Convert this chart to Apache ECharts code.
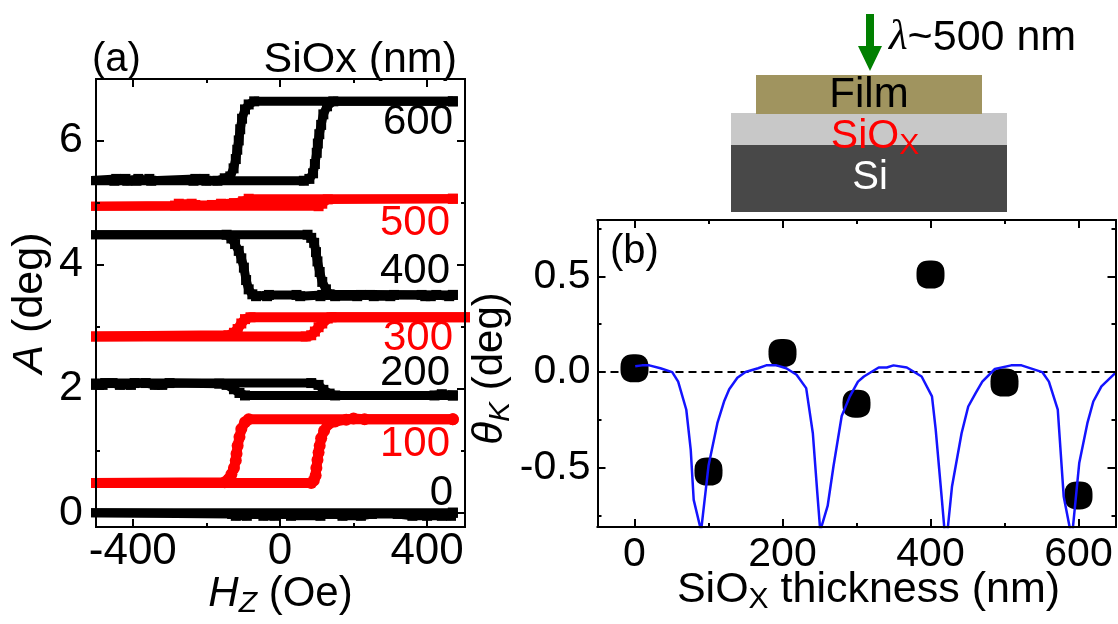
<!DOCTYPE html>
<html><head><meta charset="utf-8">
<style>html,body{margin:0;padding:0;background:#fff}#c{width:1118px;height:624px}</style>
<script src="https://cdn.jsdelivr.net/npm/echarts@6/dist/echarts.min.js"></script>
</head><body><div id="c"></div>
<script>
// Panel (a): hysteresis loops, [field Oe, A deg]
const s0Up = [[-520,0],[470,0]];
const s0Down = [[470,0],[465,-0.05],[440,-0.05],[400,-0.05],[360,-0.05],[320,-0.02],[250,-0.02],[220,-0.05],[170,-0.05],[150,-0.02],[125,-0.02],[110,-0.05],[30,-0.05],[20,-0.02],[-5,-0.02],[-15,-0.05],[-45,-0.05],[-55,-0.02],[-80,-0.02],[-90,-0.05],[-120,-0.05],[-130,-0.02],[-520,0]];
const s100Up = [[-520,0.48],[85,0.48],[92,0.52],[97,0.6],[99,0.72],[102,0.85],[105,0.97],[108,1.08],[112,1.2],[120,1.32],[130,1.42],[150,1.47],[180,1.5],[200,1.52],[230,1.505],[470,1.505]];
const s100Down = [[470,1.505],[-85,1.505],[-95,1.46],[-105,1.35],[-110,1.22],[-115,1.08],[-118,0.95],[-120,0.84],[-125,0.72],[-132,0.62],[-140,0.54],[-150,0.49],[-520,0.48]];
const s200Up = [[-520,2.09],[85,2.09],[105,2.06],[118,1.98],[135,1.92],[150,1.89],[420,1.89],[440,1.91],[470,1.89]];
const s200Down = [[470,1.89],[-95,1.89],[-110,1.93],[-125,1.99],[-145,2.06],[-165,2.08],[-300,2.09],[-320,2.06],[-340,2.06],[-365,2.09],[-395,2.09],[-405,2.06],[-435,2.06],[-455,2.09],[-475,2.09],[-482,2.06],[-500,2.06],[-520,2.09]];
const s300Up = [[-520,2.84],[70,2.84],[85,2.86],[95,2.92],[105,2.99],[115,3.05],[130,3.13],[140,3.15],[520,3.15]];
const s300Down = [[520,3.15],[-80,3.15],[-95,3.12],[-105,3.05],[-115,2.96],[-125,2.9],[-140,2.86],[-520,2.84]];
const s400Up = [[-520,4.48],[75,4.48],[85,4.43],[93,4.35],[98,4.2],[102,4.05],[108,3.88],[115,3.72],[125,3.6],[135,3.52],[470,3.51]];
const s400Down = [[470,3.51],[460,3.49],[425,3.51],[410,3.49],[395,3.49],[385,3.51],[310,3.51],[300,3.49],[255,3.49],[245,3.51],[220,3.51],[210,3.49],[150,3.49],[140,3.51],[115,3.51],[110,3.49],[55,3.49],[45,3.51],[-30,3.51],[-35,3.49],[-65,3.49],[-75,3.52],[-85,3.6],[-92,3.75],[-98,3.95],[-105,4.1],[-112,4.22],[-122,4.33],[-132,4.42],[-145,4.48],[-520,4.48]];
const s500Up = [[-520,4.94],[105,4.94],[115,4.98],[130,5.05],[470,5.06]];
const s500Down = [[470,5.06],[-85,5.06],[-100,5.02],[-125,4.99],[-160,4.98],[-185,4.96],[-230,4.96],[-240,4.98],[-275,4.98],[-285,4.95],[-520,4.94]];
const s600Up = [[-520,5.35],[65,5.35],[80,5.38],[90,5.47],[95,5.62],[100,5.8],[103,5.95],[107,6.1],[112,6.25],[118,6.42],[128,6.55],[145,6.63],[470,6.63]];
const s600Down = [[470,6.63],[-70,6.63],[-85,6.58],[-95,6.5],[-103,6.35],[-108,6.18],[-112,6.0],[-116,5.85],[-120,5.7],[-126,5.55],[-135,5.42],[-150,5.39],[-170,5.35],[-200,5.35],[-205,5.38],[-230,5.38],[-235,5.35],[-350,5.35],[-355,5.38],[-385,5.38],[-390,5.35],[-415,5.35],[-420,5.38],[-445,5.38],[-450,5.35],[-520,5.35]];
const loopColors = {s0:'#000000',s100:'#ff0000',s200:'#000000',s300:'#ff0000',s400:'#000000',s500:'#ff0000',s600:'#000000'};
const loopLabels = ['600','500','400','300','200','100','0'];
const aXMajor = [-400,0,400], aXMinor = [-200,200];
const aYMajor = [0,2,4,6], aYMinor = [1,3,5];

// Panel (b)
const dotsThickness = [0,100,200,300,400,500,600];
const dotsKerr = [0.02,-0.52,0.1,-0.165,0.51,-0.055,-0.645];
const curveThickness = [1,10,20,35,51,59,70,76,80,90,92,100,112,121,128,139,150,167,178,192,205,219,232,241,247,251,261,269,280,291,302,310,330,341,350,368,388,402,407,415,419,423,429,442,451,461,470,487,509,523,551,560,572,580,589,592,601,612,620,631,651];
const curveKerr = [0.03,0.035,0.035,0.02,0,-0.05,-0.197,-0.407,-0.668,-0.83,-0.83,-0.49,-0.267,-0.154,-0.09,-0.03,0,0.02,0.035,0.035,0.02,-0.014,-0.084,-0.32,-0.63,-0.83,-0.7,-0.49,-0.23,-0.127,-0.05,-0.023,0.024,0.024,0.035,0.024,-0.023,-0.127,-0.3,-0.65,-0.83,-0.83,-0.6,-0.32,-0.18,-0.11,-0.05,0.016,0.035,0.035,0,-0.05,-0.197,-0.65,-0.83,-0.83,-0.476,-0.267,-0.154,-0.075,0];
const bXMajor = [0,200,400,600], bXMinor = [100,300,500];
const bYMajor = [-0.5,0,0.5], bYMinor = [-0.75,-0.25,0.25,0.75];

const F = '"Liberation Sans", Arial, sans-serif';
function ax(grid, pos, range, ticks, len, labels, extra) {
  return Object.assign({
    type:'value', gridIndex:grid, position:pos, min:range[0], max:range[1], z:6,
    splitLine:{show:false}, nameMoveOverlap:false,
    axisLine:{show:true, onZero:false, lineStyle:{color:'#000',width:2}},
    axisTick:{show:true, inside:true, length:len, customValues:ticks, lineStyle:{color:'#000',width:2}},
    axisLabel: labels ? Object.assign({show:true, customValues:ticks, color:'#000', fontFamily:F, showMinLabel:true, showMaxLabel:true}, labels) : {show:false}
  }, extra||{});
}
const aXR=[-500,503], aYR=[-0.23,6.99], bXR=[-50,650], bYR=[-0.81,0.795];
const xAxes = [
  ax(0,'bottom',aXR,aXMajor,8,{fontSize:44,margin:3},{
    name:'{i|H}{sub|Z} (Oe)', nameLocation:'middle', nameGap:42,
    nameTextStyle:{fontSize:42,fontFamily:F,color:'#000',rich:{i:{fontSize:42,fontStyle:'italic',fontFamily:F},sub:{fontSize:30,fontStyle:'italic',fontFamily:F,verticalAlign:'bottom',padding:[20,0,0,0]}}}
  }),
  ax(0,'bottom',aXR,aXMinor,4), ax(0,'top',aXR,aXMajor,8), ax(0,'top',aXR,aXMinor,4),
  ax(1,'bottom',bXR,bXMajor,8,{fontSize:41,margin:7},{
    name:'SiO{sub|X} thickness (nm)', nameLocation:'middle', nameGap:38,
    nameTextStyle:{fontSize:43,fontFamily:F,color:'#000',padding:[0,0,0,24],rich:{sub:{fontSize:30,fontFamily:F,verticalAlign:'bottom',padding:[20,0,0,0]}}}
  }),
  ax(1,'bottom',bXR,bXMinor,4), ax(1,'top',bXR,bXMajor,8), ax(1,'top',bXR,bXMinor,4)
];
const yAxes = [
  ax(0,'left',aYR,aYMajor,8,{fontSize:43,margin:13,padding:[9,0,0,0]},{
    name:'{i|A} (deg)', nameLocation:'middle', nameGap:44,
    nameTextStyle:{fontSize:43,fontFamily:F,color:'#000',rich:{i:{fontSize:43,fontStyle:'italic',fontFamily:F}}}
  }),
  ax(0,'left',aYR,aYMinor,4), ax(0,'right',aYR,aYMajor,8), ax(0,'right',aYR,aYMinor,4),
  ax(1,'left',bYR,bYMajor,8,{fontSize:41,margin:7,padding:[5,0,0,0],formatter:v=>v.toFixed(1)},{
    name:'{i|θ}{sub|K} (deg)', nameLocation:'middle', nameGap:82,
    nameTextStyle:{fontSize:42,fontFamily:F,color:'#000',padding:[0,0,0,10],rich:{i:{fontSize:42,fontStyle:'italic',fontFamily:F},sub:{fontSize:30,fontStyle:'italic',fontFamily:F,verticalAlign:'bottom',padding:[20,0,0,0]}}}
  }),
  ax(1,'left',bYR,bYMinor,4), ax(1,'right',bYR,bYMajor,8), ax(1,'right',bYR,bYMinor,4)
];
function loop(data,color,size,sym,symSize){
  return {type:'line',xAxisIndex:0,yAxisIndex:0,data,animation:false,showSymbol:true,showAllSymbol:true,
    symbol:sym||'rect',symbolSize:symSize||10,itemStyle:{color},lineStyle:{color,width:size},z:3,silent:true};
}
const series = [
  loop(s0Up,loopColors.s0,9),loop(s0Down,loopColors.s0,9),
  loop(s100Up,loopColors.s100,10,'circle',12),loop(s100Down,loopColors.s100,10,'circle',12),
  loop(s200Up,loopColors.s200,9),loop(s200Down,loopColors.s200,9),
  loop(s300Up,loopColors.s300,10),loop(s300Down,loopColors.s300,10),
  loop(s400Up,loopColors.s400,9),loop(s400Down,loopColors.s400,9),
  loop(s500Up,loopColors.s500,9),loop(s500Down,loopColors.s500,9),
  loop(s600Up,loopColors.s600,9),loop(s600Down,loopColors.s600,9),
  {type:'scatter',xAxisIndex:4,yAxisIndex:4,animation:false,z:3,silent:true,
   symbol:'path://M45,0 H55 Q100,0 100,45 V55 Q100,100 55,100 H45 Q0,100 0,55 V45 Q0,0 45,0Z',symbolSize:28,
   itemStyle:{color:'#000',opacity:1},data:dotsThickness.map((x,i)=>[x,dotsKerr[i]])},
  {type:'line',xAxisIndex:4,yAxisIndex:4,animation:false,z:4,silent:true,showSymbol:false,
   lineStyle:{color:'#000',width:2,type:[8,5]},data:[[-50,0],[650,0]]},
  {type:'line',xAxisIndex:4,yAxisIndex:4,animation:false,z:5,silent:true,showSymbol:false,
   lineStyle:{color:'#1414ff',width:2.5},data:curveThickness.map((x,i)=>[x,curveKerr[i]])}
];
function txt(t,x,y,color,size,align,rich,font){
  return {type:'text',x,y,z:20,silent:true,style:{text:t,fill:color,fontSize:size,fontFamily:font||F,align:align,verticalAlign:'middle',rich:rich||undefined}};
}
const labelY = [122,223,271,338,373,444,493], labelX=[453,450,450,453,450,450,453];
const graphic = [
  {type:'polygon',z:10,silent:true,shape:{points:[[866,14],[874,14],[874,46],[882,46],[870,71],[858,46],[866,46]]},style:{fill:'#008000'}},
  {type:'rect',z:9,silent:true,shape:{x:731,y:145,width:276,height:67},style:{fill:'#484848'}},
  {type:'rect',z:9,silent:true,shape:{x:731,y:113,width:276,height:32},style:{fill:'#c8c8c8'}},
  {type:'rect',z:9,silent:true,shape:{x:756,y:75,width:226,height:39},style:{fill:'#a0945f'}},
  txt('Film',869,95,'#000',42,'center'),
  txt('SiO{sub|X}',875,137,'#ff0000',41,'center',{sub:{fontSize:30,fill:'#ff0000',fontFamily:F,verticalAlign:'bottom',padding:[18,0,0,0]}}),
  txt('Si',870,178,'#fff',40,'center'),
  txt('{l|λ}~500 nm',889,38,'#000',43,'left',{l:{fontSize:43,fontStyle:'italic',fontFamily:'"Liberation Serif", serif',fill:'#000'}}),
  txt('(a)',92,60,'#000',40,'left'),
  txt('SiOx (nm)',457,60,'#000',43,'right'),
  txt('(b)',610,252,'#000',40,'left')
].concat(loopLabels.map((t,i)=>txt(t,labelX[i],labelY[i],i%2? '#ff0000':'#000',42,'right')));
const chart = echarts.init(document.getElementById('c'),null,{renderer:'canvas'});
chart.setOption({
  animation:false, backgroundColor:'#fff',
  grid:[{left:96,top:79,width:369,height:448,outerBoundsMode:'none'},{left:597.5,top:220,width:518,height:307,outerBoundsMode:'none'}],
  xAxis:xAxes, yAxis:yAxes, series, graphic:{elements:graphic}
});
</script></body></html>
